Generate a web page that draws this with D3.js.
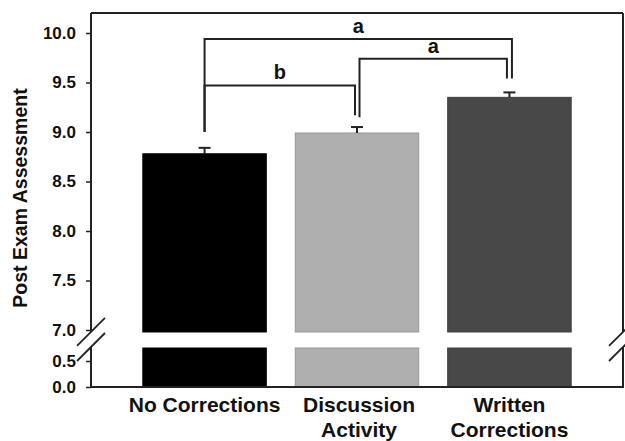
<!DOCTYPE html>
<html>
<head>
<meta charset="utf-8">
<script src="https://cdn.jsdelivr.net/npm/d3@7"></script>
<style>
  html, body { margin: 0; padding: 0; background: #fff; }
  svg { display: block; font-family: "Liberation Sans", Arial, sans-serif; }
</style>
</head>
<body>
<svg id="chart" width="625" height="441"></svg>
<script>
// Group means with standard errors (upward error bars only)
const categories = ["No Corrections", "Discussion Activity", "Written Corrections"];
const categoryLines = [["No Corrections"], ["Discussion", "Activity"], ["Written", "Corrections"]];
const means = [8.78, 8.99, 9.35];
const errors = [0.06, 0.06, 0.05];
const barColors = ["#000000", "#afafaf", "#484848"];

// Axis ticks for the two segments of the broken y axis
const upperTicks = [7.0, 7.5, 8.0, 8.5, 9.0, 9.5, 10.0];
const lowerTicks = [0.0, 0.5];

// Significance brackets: from group, to group, bar height, leg ends, letter
const brackets = [
  { from: 0, to: 2, level: 9.94, legFrom: 9.00, legTo: 9.54, label: "a", dxFrom: 0, dxTo: 2.5 },
  { from: 1, to: 2, level: 9.74, legFrom: 9.15, legTo: 9.54, label: "a", dxFrom: 2.5, dxTo: -2.5 },
  { from: 0, to: 1, level: 9.47, legFrom: 9.00, legTo: 9.17, label: "b", dxFrom: 0, dxTo: -2 }
];

const svg = d3.select("#chart");
const plotLeft = 91, plotRight = 623, plotTop = 13, plotBottom = 387;
const ink = "#222";

const x = d3.scaleBand().domain(categories).range([plotLeft, plotRight])
  .paddingInner(0.19).paddingOuter(0.34);

// Upper segment 7.0 – 10.2, lower segment 0.0 – 0.75
const yTop = d3.scaleLinear().domain([7, 10]).range([330, 33]);
const yBot = d3.scaleLinear().domain([0, 0.5]).range([387, 361]);
const upperEnd = 6.98, lowerEnd = 0.75;

// Bars, each split across the axis break
const bars = svg.append("g");
categories.forEach((c, i) => {
  const edge = d3.color(barColors[i]).darker(0.4);
  bars.append("rect")
    .attr("x", x(c)).attr("width", x.bandwidth())
    .attr("y", yTop(means[i])).attr("height", yTop(upperEnd) - yTop(means[i]))
    .attr("fill", barColors[i]).attr("stroke", edge).attr("stroke-width", 1);
  bars.append("rect")
    .attr("x", x(c)).attr("width", x.bandwidth())
    .attr("y", yBot(lowerEnd)).attr("height", yBot(0) - yBot(lowerEnd))
    .attr("fill", barColors[i]).attr("stroke", edge).attr("stroke-width", 1);
});

// Error bars
const eb = svg.append("g").attr("stroke", ink).attr("stroke-width", 2);
categories.forEach((c, i) => {
  const cx = x(c) + x.bandwidth() / 2;
  eb.append("line").attr("x1", cx).attr("x2", cx)
    .attr("y1", yTop(means[i])).attr("y2", yTop(means[i] + errors[i]));
  eb.append("line").attr("x1", cx - 6).attr("x2", cx + 6)
    .attr("y1", yTop(means[i] + errors[i])).attr("y2", yTop(means[i] + errors[i]));
});

// Frame: axes and box, with gaps at the break
const frame = svg.append("g").attr("stroke", ink).attr("stroke-width", 2).attr("fill", "none");
[plotLeft, plotRight].forEach(xx => {
  frame.append("line").attr("x1", xx).attr("x2", xx).attr("y1", plotTop).attr("y2", yTop(upperEnd));
  frame.append("line").attr("x1", xx).attr("x2", xx).attr("y1", yBot(lowerEnd) - 1).attr("y2", plotBottom);
});
frame.append("line").attr("x1", plotLeft).attr("x2", plotRight).attr("y1", plotTop).attr("y2", plotTop);
frame.append("line").attr("x1", plotLeft - 1).attr("x2", plotRight + 1).attr("y1", plotBottom).attr("y2", plotBottom);

// Break marks
const breakYs = [yTop(upperEnd), yBot(lowerEnd) - 1];
[plotLeft, plotRight].forEach(xx => {
  breakYs.forEach(by => {
    frame.append("line").attr("x1", xx - 14).attr("y1", by + 14).attr("x2", xx + 14).attr("y2", by - 14)
      .attr("stroke-width", 1.8);
  });
});

// Y axes
const tickFmt = d3.format(".1f");
const axUpper = svg.append("g").attr("transform", `translate(${plotLeft},0)`)
  .call(d3.axisLeft(yTop).tickValues(upperTicks).tickFormat(tickFmt).tickSize(5).tickPadding(10));
const axLower = svg.append("g").attr("transform", `translate(${plotLeft},0)`)
  .call(d3.axisLeft(yBot).tickValues(lowerTicks).tickFormat(tickFmt).tickSize(5).tickPadding(10));
[axUpper, axLower].forEach(ax => {
  ax.select(".domain").remove();
  ax.selectAll(".tick line").attr("stroke", ink).attr("stroke-width", 1.5);
  ax.selectAll(".tick text")
    .attr("fill", "#111").attr("font-size", 17).attr("font-weight", "bold")
    .attr("font-family", "'Liberation Sans', Arial, sans-serif");
});

// X category labels
const xl = svg.append("g").attr("font-size", 21).attr("font-weight", "bold").attr("fill", "#111")
  .attr("text-anchor", "middle");
categories.forEach((c, i) => {
  const cx = x(c) + x.bandwidth() / 2 + (i === 1 ? 2 : 0);
  categoryLines[i].forEach((line, j) => {
    xl.append("text").attr("x", cx).attr("y", 412 + j * 25).text(line);
  });
});

// Y axis title
svg.append("text")
  .attr("transform", `translate(27,${(plotTop + plotBottom) / 2 - 2}) rotate(-90)`)
  .attr("text-anchor", "middle").attr("font-size", 19.5).attr("font-weight", "bold").attr("fill", "#111")
  .text("Post Exam Assessment");

// Significance brackets
const br = svg.append("g").attr("stroke", ink).attr("stroke-width", 2).attr("fill", "none");
const cxOf = i => x(categories[i]) + x.bandwidth() / 2;
brackets.forEach(b => {
  const x1 = cxOf(b.from) + b.dxFrom, x2 = cxOf(b.to) + b.dxTo;
  br.append("path").attr("d", d3.line()([
    [x1, yTop(b.legFrom)], [x1, yTop(b.level)], [x2, yTop(b.level)], [x2, yTop(b.legTo)]
  ]));
  svg.append("text").attr("x", (x1 + x2) / 2).attr("y", yTop(b.level) - 6)
    .attr("text-anchor", "middle").attr("font-size", 20).attr("font-weight", "bold").attr("fill", "#111")
    .text(b.label);
});
</script>
</body>
</html>
